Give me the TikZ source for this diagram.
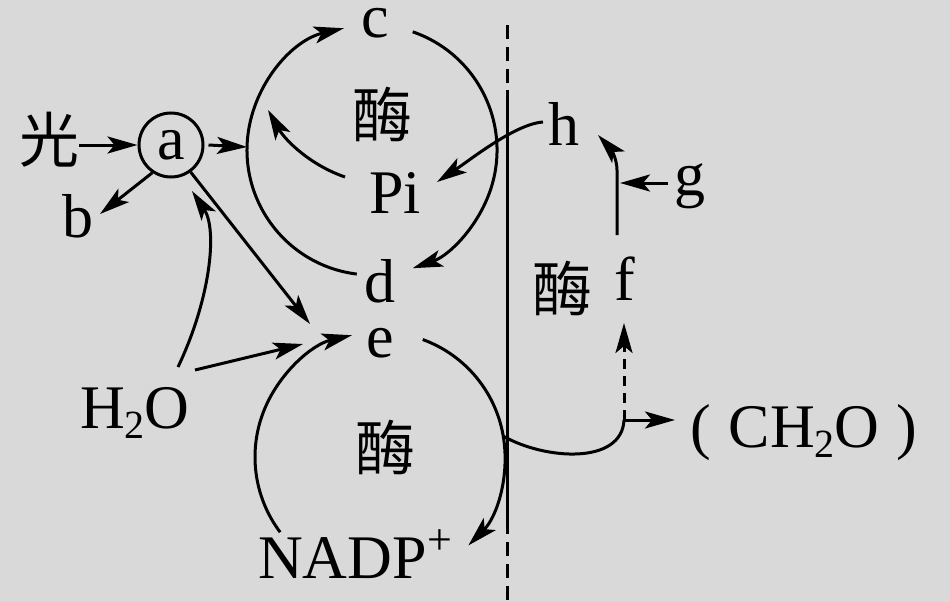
\documentclass[tikz,border=0pt]{standalone}
\usepackage{fontspec}
\setmainfont{Liberation Serif}
\newfontfamily\cjk{Noto Sans CJK SC}
\usetikzlibrary{arrows.meta}
\definecolor{paper}{RGB}{217,217,217}
\begin{document}
\begin{tikzpicture}[x=1pt,y=-1pt,
  lbl/.style={inner sep=0pt, font=\fontsize{62}{62}\selectfont},
  han/.style={inner sep=0pt, font=\fontsize{60}{60}\selectfont\cjk},
  arr/.style={line width=3pt, -{Stealth[length=30pt,width=17pt,inset=7pt]}},
  ln/.style={line width=3pt},
  dsh/.style={line width=3pt, dash pattern=on 14pt off 8pt},
  shortdsh/.style={line width=3pt, dash pattern=on 10pt off 7pt}]
\fill[paper] (0,0) rectangle (950,602);
\useasboundingbox (0,0) rectangle (950,602);

% labels
\node[han] (guang) at (49,140) {光};
\node[lbl, draw, circle, line width=3pt, minimum size=64pt] (a) at (171,145) {a};
\node[lbl, anchor=base] (b) at (78,237) {b};
\node[lbl, anchor=base] (c) at (375,38) {c};
\node[han] (m1) at (382,114) {酶};
\node[lbl, anchor=base] (Pi) at (395,213) {Pi};
\node[lbl, anchor=base] (d) at (380,302) {d};
\node[lbl, anchor=base] (e) at (380,357) {e};
\node[han] (m2) at (385,447) {酶};
\node[lbl, anchor=base west] (nadp) at (258,578) {NADP\raisebox{24pt}{\fontsize{44}{44}\selectfont +}};
\node[lbl, anchor=base west] (h2o) at (80,428) {H\raisebox{-10pt}{\fontsize{40}{40}\selectfont 2}O};
\node[lbl, anchor=base] (h) at (564,145) {h};
\node[lbl, anchor=base] (g) at (690,195) {g};
\node[lbl, anchor=base] (f) at (625,300) {f};
\node[han] (m3) at (562,288) {酶};
\node[lbl, anchor=base west] (ch2o) at (690,447) {(\hspace{18pt}CH\raisebox{-10pt}{\fontsize{40}{40}\selectfont 2}O\hspace{17pt})};

% cycle centres and free ends of connectors
\coordinate (o1) at (372,150);
\coordinate (o2) at (380,457);
\coordinate (c1w) at (247,147);
\coordinate (bt) at (100,214);
\coordinate (et1) at (310,324);
\coordinate (at1) at (192,191);
\coordinate (ws1) at (178,367);
\coordinate (ws2) at (195,370);
\coordinate (et2) at (303,344);
\coordinate (ps) at (345,177);
\coordinate (pt) at (268,110);
\coordinate (hs) at (543,122);
\coordinate (pit) at (437,182);
\coordinate (gs) at (668,183);
\coordinate (gt) at (620,183);
\coordinate (fs) at (617,235);
\coordinate (fk) at (617,170);
\coordinate (ht) at (598,135);
\coordinate (k) at (624,420);
\coordinate (ft) at (624,323);
\coordinate (cht) at (675,420);
\coordinate (ls) at (503,436);
\coordinate (v0) at (507,25);
\coordinate (v1) at (507,90);
\coordinate (v2) at (507,520);
\coordinate (v3) at (507,602);

% membrane
\draw[dsh] (v0) -- (v1);
\draw[ln] (v1) -- (v2);
\draw[dsh] (v2) -- (v3);

% upper cycle: c -> d and d -> c
\draw[arr] ([shift={(-71:125)}]o1) arc[start angle=-71, end angle=71, radius=125];
\draw[arr] ([shift={(97:125)}]o1) arc[start angle=97, end angle=257, radius=125];
% lower cycle: e -> NADP+ and NADP+ -> e
\draw[arr] ([shift={(-70:125)}]o2) arc[start angle=-70, end angle=45, radius=125];
\draw[arr] ([shift={(143:125)}]o2) arc[start angle=143, end angle=257, radius=125];

% light reactions
\draw[arr] (guang.east |- a.west) -- (a.west);
\draw[arr] ([xshift=4pt]a.east) -- (c1w);
\draw[arr] (a.-124) -- (bt);
\draw[arr] (a.-54) -- (et1);
\draw[arr] (ws1) .. controls (210,300) and (218,230) .. (at1);
\draw[arr] (ws2) -- (et2);
\draw[arr] (ps) .. controls (310,165) and (285,140) .. (pt);

% dark reactions
\draw[arr] (hs) .. controls (515,124) and (470,160) .. (pit);
\draw[arr] (gs) -- (gt);
\draw[arr] (fs) -- (fk) .. controls (617,158) and (610,148) .. (ht);
\draw[ln] (ls) .. controls (545,460) and (622,465) .. (k);
\draw[shortdsh, arr] (k) -- (ft);
\draw[arr] (k) -- (cht);
\end{tikzpicture}
\end{document}
